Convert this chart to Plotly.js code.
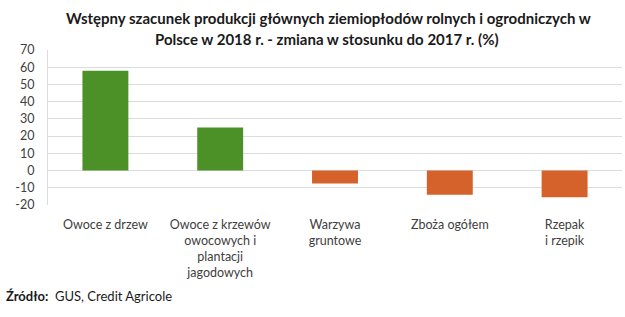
<!DOCTYPE html>
<html><head><meta charset="utf-8">
<script src="https://cdn.plot.ly/plotly-3.0.1.min.js"></script>
<style>html,body{margin:0;padding:0;background:#fff}#chart{width:625px;height:317px}</style>
</head><body><div id="chart"></div>
<script>
const categories = ["Owoce z drzew", "Owoce z krzewów<br>owocowych i<br>plantacji<br>jagodowych", "Warzywa<br>gruntowe", "Zboża ogółem", "Rzepak<br>i rzepik"];
const values = [58, 25, -7.5, -14, -15.5];
const tickValues = [-20, -10, 0, 10, 20, 30, 40, 50, 60, 70];
const titleLines = ["Wstępny szacunek produkcji głównych ziemiopłodów rolnych i ogrodniczych w", "Polsce w 2018 r. - zmiana w stosunku do 2017 r. (%)"];
const colors = values.map(v => v >= 0 ? "#4b9128" : "#d4622a");
const FONT = "Lato, 'Open Sans', sans-serif";

const pyToPaper = py => (205 - py) / 155;
const pxToPaper = px => (px - 48) / 574;

Plotly.newPlot("chart", [{
  type: "bar",
  x: categories,
  y: values,
  width: 0.4,
  marker: {color: colors},
  hoverinfo: "none"
}], {
  width: 625, height: 317,
  margin: {l: 48, r: 3, t: 50, b: 112},
  paper_bgcolor: "#fff", plot_bgcolor: "#fff",
  font: {family: FONT, size: 12.5, color: "#404040"},
  showlegend: false,
  xaxis: {
    showgrid: false, zeroline: false, showline: false, ticks: "",
    ticklabelstandoff: 10,
    tickfont: {family: FONT, size: 12.5, color: "#404040"}
  },
  yaxis: {
    range: [-20, 70], tickvals: tickValues, ticktext: tickValues.map(String),
    showgrid: true, gridcolor: "#dcdcdc", gridwidth: 1,
    zeroline: false, showline: true, linecolor: "#dcdcdc",
    ticks: "", ticklabelstandoff: 10,
    tickfont: {family: FONT, size: 12.5, color: "#404040"}
  },
  annotations: [
    {xref: "paper", yref: "paper", x: pxToPaper(328), y: pyToPaper(18),
     xanchor: "center", yanchor: "middle", showarrow: false,
     text: "<b>" + titleLines[0] + "</b>", font: {family: FONT, size: 15, color: "#1a1a1a"}},
    {xref: "paper", yref: "paper", x: pxToPaper(327), y: pyToPaper(39),
     xanchor: "center", yanchor: "middle", showarrow: false,
     text: "<b>" + titleLines[1] + "</b>", font: {family: FONT, size: 15, color: "#1a1a1a"}},
    {xref: "paper", yref: "paper", x: pxToPaper(4), y: pyToPaper(296),
     xanchor: "left", yanchor: "middle", showarrow: false,
     text: "<b>Źródło:</b>  GUS, Credit Agricole",
     font: {family: FONT, size: 13, color: "#1a1a1a"}}
  ]
}, {displayModeBar: false, staticPlot: true});
</script></body></html>
